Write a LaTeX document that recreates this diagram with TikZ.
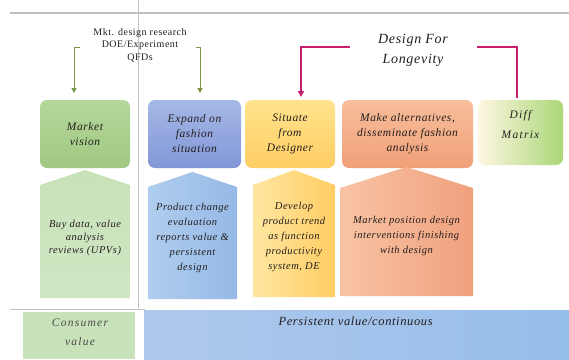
\documentclass[tikz,border=0pt]{standalone}
\usepackage{fontspec}
\setmainfont{Liberation Serif}
\newfontfamily\spc[LetterSpace=5]{Liberation Serif}
\newfontfamily\wspc[LetterSpace=11]{Liberation Serif}
\usetikzlibrary{arrows.meta}
\definecolor{grline}{RGB}{190,195,190}
\definecolor{arrgreen}{RGB}{120,150,70}
\definecolor{arrpink}{RGB}{200,30,110}
\definecolor{gA}{RGB}{180,215,155}\definecolor{gB}{RGB}{160,200,130}
\definecolor{bA}{RGB}{165,185,230}\definecolor{bB}{RGB}{130,150,215}
\definecolor{yA}{RGB}{255,228,140}\definecolor{yB}{RGB}{255,205,100}
\definecolor{sA}{RGB}{248,190,155}\definecolor{sB}{RGB}{240,160,120}
\definecolor{dA}{RGB}{255,246,225}\definecolor{dB}{RGB}{170,215,120}
\definecolor{lg}{RGB}{200,226,185}
\definecolor{lbA}{RGB}{175,205,238}\definecolor{lbB}{RGB}{150,185,230}
\definecolor{lyA}{RGB}{255,230,160}\definecolor{lyB}{RGB}{255,205,100}
\definecolor{lsA}{RGB}{248,195,165}\definecolor{lsB}{RGB}{240,160,125}
\definecolor{barA}{RGB}{175,200,235}\definecolor{barB}{RGB}{150,190,235}
\definecolor{txt}{RGB}{35,30,30}
\begin{document}
\begin{tikzpicture}[x=1pt,y=-1pt,
  topbox/.style={rounded corners=7pt, align=center, inner sep=2pt, text=txt,
     font=\spc\itshape\fontsize{11.5}{15}\selectfont},
  lowtext/.style={align=center, text=txt, font=\spc\itshape\fontsize{10.5}{15}\selectfont},
  garrow/.style={draw=arrgreen, line width=1pt, -{Triangle[length=5pt,width=5pt]}},
  parrow/.style={draw=arrpink, line width=1.5pt},
]
\useasboundingbox (0,0) rectangle (569,359);
\fill[white] (0,0) rectangle (569,359);
% guide lines
\draw[grline, line width=1.2pt] (10,13) -- (569,13);
\draw[grline, line width=0.9pt] (138,0) -- (138,308);
\draw[grline, line width=0.9pt] (10,309) -- (145,309);

% top row boxes
\node[topbox, top color=gA, bottom color=gB, minimum width=90pt, minimum height=68pt] (mv) at (85,134) {Market\\vision};
\node[topbox, top color=bA, bottom color=bB, minimum width=93pt, minimum height=68pt] (ex) at (194.5,134) {Expand on\\fashion\\situation};
\node[topbox, top color=yA, bottom color=yB, minimum width=90pt, minimum height=68pt] (si) at (290,134) {Situate\\from\\Designer};
\node[topbox, top color=sA, bottom color=sB, minimum width=131pt, minimum height=68pt] (ma) at (407.5,134) {Make alternatives,\\disseminate fashion\\analysis};
\node[topbox, left color=dA, right color=dB, minimum width=85pt, minimum height=65pt] (dm) at (520.5,132.5) {};
\node[align=center, text=txt, font=\wspc\itshape\fontsize{11.5}{20}\selectfont] (dmt) at (520.5,125) {Diff\\Matrix};

% lower pentagons
\shade[top color=lg, bottom color=lg!85!white] (40,185) -- (85,170) -- (130,185) -- (130,298) -- (40,298) -- cycle;
\shade[left color=lbA, right color=lbB] (148,187) -- (192.5,172) -- (237,187) -- (237,299) -- (148,299) -- cycle;
\shade[left color=lyA, right color=lyB] (253,185) -- (294,170) -- (335,185) -- (335,297) -- (253,297) -- cycle;
\shade[left color=lsA, right color=lsB] (340,188) -- (406.5,167) -- (473,188) -- (473,296) -- (340,296) -- cycle;

\node[lowtext, font=\spc\itshape\fontsize{10.5}{13}\selectfont] (gt) at (85,238) {Buy data, value\\analysis\\reviews (UPVs)};
\node[lowtext] (bt) at (192.5,238) {Product change\\evaluation\\reports value \&\\persistent\\design};
\node[lowtext] (yt) at (294,236.5) {Develop\\product trend\\as function\\productivity\\system, DE};
\node[lowtext] (st) at (406.5,236) {Market position design\\interventions finishing\\with design};

% bottom bars
\fill[lg] (23,312) rectangle (135,359);
\node[text=txt!80, font=\wspc\itshape\fontsize{11.5}{19}\selectfont, align=center] (cv) at (80,332) {Consumer\\value};
\shade[left color=barA, right color=barB] (144,310) rectangle (569,359);
\node[text=txt, font=\spc\itshape\fontsize{12.5}{14}\selectfont, anchor=west] (pv) at (275,321) {Persistent value/continuous};

% annotations
\node[text=txt, font=\spc\fontsize{10}{12.5}\selectfont, align=center] (mk) at (140,45) {Mkt. design research\\DOE/Experiment\\QFDs};
\node[text=txt, font=\spc\itshape\fontsize{14}{20}\selectfont, align=center] (dl) at (413,50) {Design For\\Longevity};

\coordinate (ls) at (80,47);
\coordinate (rs) at (196,47);
\coordinate (lt) at (74,93);
\coordinate (rt) at (200,93);
\draw[garrow] (ls) -| (lt);
\draw[garrow] (rs) -| (rt);

\coordinate (pl) at (350,47);
\coordinate (pr) at (477,47);
\coordinate (st1) at (301,97);
\coordinate (dmtop) at (517,98);
\draw[parrow, -{Triangle[length=6pt,width=6pt]}] (pl) -| (st1);
\draw[parrow] (pr) -| (dmtop);
\end{tikzpicture}
\end{document}
